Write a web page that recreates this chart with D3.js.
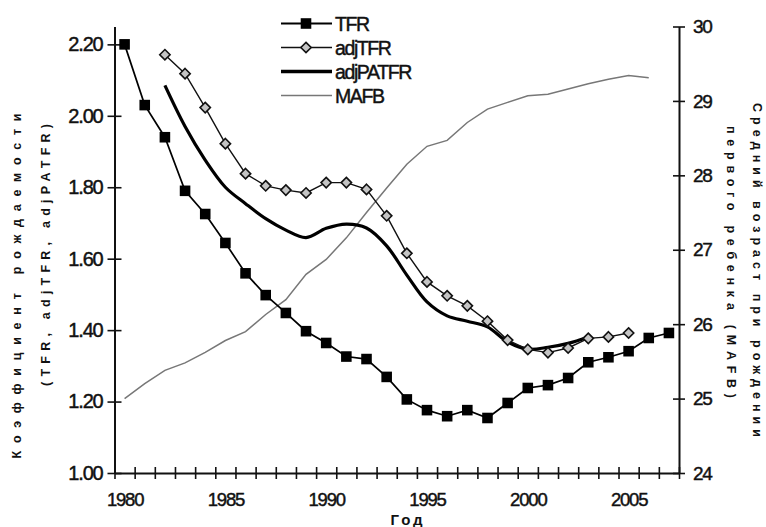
<!DOCTYPE html>
<html><head><meta charset="utf-8">
<script src="https://cdn.jsdelivr.net/npm/d3@7"></script>
<style>body{margin:0;background:#fff} svg{display:block} text{font-family:"Liberation Sans",Arial,sans-serif;fill:#111}
.heavy{stroke:#111;stroke-width:0.45px}</style>
</head><body><svg id="c" width="766" height="527"></svg>
<script>
const years = [1980,1981,1982,1983,1984,1985,1986,1987,1988,1989,1990,1991,1992,1993,1994,1995,1996,1997,1998,1999,2000,2001,2002,2003,2004,2005,2006,2007];
const tfr = [2.20,2.03,1.94,1.79,1.725,1.644,1.559,1.498,1.448,1.397,1.364,1.326,1.319,1.269,1.206,1.176,1.159,1.176,1.154,1.196,1.238,1.246,1.266,1.31,1.324,1.341,1.378,1.392];
const adjTfrYears = [1982,1983,1984,1985,1986,1987,1988,1989,1990,1991,1992,1993,1994,1995,1996,1997,1998,1999,2000,2001,2002,2003,2004,2005];
const adjTfr = [2.171,2.118,2.023,1.922,1.838,1.804,1.792,1.784,1.813,1.813,1.794,1.72,1.615,1.535,1.496,1.468,1.425,1.372,1.346,1.337,1.35,1.377,1.381,1.392];
const adjPatfrYears = [1982,1983,1984,1985,1986,1987,1988,1989,1990,1991,1992,1993,1994,1995,1996,1997,1998,1999,2000,2001,2002,2003];
const adjPatfr = [2.085,1.97,1.876,1.80,1.754,1.712,1.68,1.659,1.685,1.697,1.686,1.636,1.554,1.479,1.44,1.425,1.409,1.367,1.347,1.352,1.363,1.381];
const mafbYears = [1980,1981,1982,1983,1984,1985,1986,1987,1988,1989,1990,1991,1992,1993,1994,1995,1996,1997,1998,1999,2000,2001,2002,2003,2004,2005,2006];
const mafb = [25.0,25.2,25.38,25.48,25.62,25.78,25.9,26.13,26.33,26.67,26.87,27.16,27.5,27.83,28.15,28.39,28.47,28.71,28.89,28.98,29.07,29.09,29.16,29.23,29.29,29.34,29.31];
const leftTicks = [1.00,1.20,1.40,1.60,1.80,2.00,2.20];
const rightTicks = [24,25,26,27,28,29,30];
const xLabelYears = [1980,1985,1990,1995,2000,2005];
const legendItems = ["TFR","adjTFR","adjPATFR","MAFB"];

const svg = d3.select("#c");
const L = 114.5, R = 679, T = 26.5, B = 473;
const x = d3.scaleLinear().domain([1979.5, 2007.5]).range([L, R]);
const yL = d3.scaleLinear().domain([1.0, 2.25]).range([B, T]);
const yR = d3.scaleLinear().domain([24, 30]).range([B, T]);

// x axis
const boundaries = d3.range(years.length + 1).map(i => years[0] - 0.5 + i);
const gx = svg.append("g").attr("transform", `translate(0,${B})`)
  .call(d3.axisBottom(x).tickValues(boundaries).tickSizeInner(6).tickSizeOuter(0).tickFormat(""));
gx.selectAll(".tick line").attr("y1", -6).attr("y2", 6);
const gxl = svg.append("g").attr("transform", `translate(0,${B})`)
  .call(d3.axisBottom(x).tickValues(xLabelYears).tickSize(0).tickFormat(d3.format("d")));
gxl.select(".domain").remove();
gxl.selectAll("text").attr("y", 33).attr("dy", 0).attr("class","heavy").style("font-size", "18.5px").style("letter-spacing", "-1.2px");

// left axis
const gl = svg.append("g").attr("transform", `translate(${L},0)`)
  .call(d3.axisLeft(yL).tickValues(leftTicks).tickSizeInner(7).tickSizeOuter(0).tickFormat(d3.format(".2f")));
gl.selectAll(".tick line").attr("x1", 7).attr("x2", -7);
gl.selectAll("text").attr("x", -12).attr("class","heavy").style("font-size", "20px").style("letter-spacing", "-1.2px");

// right axis
const gr = svg.append("g").attr("transform", `translate(${R},0)`)
  .call(d3.axisRight(yR).tickValues(rightTicks).tickSizeInner(6).tickSizeOuter(0).tickFormat(d3.format("d")));
gr.selectAll(".tick line").attr("x1", -6).attr("x2", 6);
gr.selectAll("text").attr("x", 14).attr("class","heavy").style("font-size", "19px").style("letter-spacing", "-1.3px");

svg.selectAll(".domain").attr("stroke", "#111").attr("stroke-width", 2);
svg.selectAll(".tick line").attr("stroke", "#111").attr("stroke-width", 1.6);

// series
const lineR = d3.line().x(d => x(d[0])).y(d => yR(d[1]));
const lineL = d3.line().x(d => x(d[0])).y(d => yL(d[1]));

svg.append("path").datum(mafbYears.map((y,i)=>[y,mafb[i]]))
  .attr("d", lineR).attr("fill","none").attr("stroke","#777").attr("stroke-width",1.5);

svg.append("path").datum(adjPatfrYears.map((y,i)=>[y,adjPatfr[i]]))
  .attr("d", d3.line().x(d => x(d[0])).y(d => yL(d[1])).curve(d3.curveCatmullRom.alpha(0.5)))
  .attr("fill","none").attr("stroke","#000").attr("stroke-width",3.2);

const adjData = adjTfrYears.map((y,i)=>[y,adjTfr[i]]);
svg.append("path").datum(adjData).attr("d", lineL).attr("fill","none").attr("stroke","#111").attr("stroke-width",1.4);

const tfrData = years.map((y,i)=>[y,tfr[i]]);
svg.append("path").datum(tfrData).attr("d", lineL).attr("fill","none").attr("stroke","#000").attr("stroke-width",1.7);

const diamond = d3.symbol().type(d3.symbolDiamond2).size(68);
const square = d3.symbol().type(d3.symbolSquare).size(112);

svg.append("g").selectAll("path").data(adjData).join("path")
  .attr("d", diamond).attr("transform", d => `translate(${x(d[0])},${yL(d[1])})`)
  .attr("fill","#c4c4c4").attr("stroke","#111").attr("stroke-width",1.6);

svg.append("g").selectAll("path").data(tfrData).join("path")
  .attr("d", square).attr("transform", d => `translate(${x(d[0])},${yL(d[1])})`)
  .attr("fill","#000");

// legend
const lg = svg.append("g");
const rowsY = [23.5, 47.5, 71.5, 95.5];
legendItems.forEach((name, i) => {
  const yy = rowsY[i];
  const ln = lg.append("line").attr("x1", 281).attr("x2", 332).attr("y1", yy).attr("y2", yy);
  if (name === "TFR") {
    ln.attr("stroke","#000").attr("stroke-width",1.8);
    lg.append("path").attr("d", square).attr("transform", `translate(306,${yy})`).attr("fill","#000");
  } else if (name === "adjTFR") {
    ln.attr("stroke","#111").attr("stroke-width",1.4);
    lg.append("path").attr("d", diamond).attr("transform", `translate(306,${yy})`).attr("fill","#c4c4c4").attr("stroke","#111").attr("stroke-width",1.6);
  } else if (name === "adjPATFR") {
    ln.attr("stroke","#000").attr("stroke-width",3.4);
  } else {
    ln.attr("stroke","#777").attr("stroke-width",1.5);
  }
  lg.append("text").attr("x", 335).attr("y", yy).attr("dy", "0.36em").attr("class","heavy")
    .style("font-size","19.5px").style("letter-spacing","-1.4px").text(name);
});

// axis titles
function vtitle(cx, cy, rot, txt, len) {
  svg.append("text").attr("transform", `translate(${cx},${cy}) rotate(${rot})`)
    .attr("text-anchor","middle").attr("dy","0.35em")
    .attr("textLength", len).attr("lengthAdjust","spacing")
    .style("font-size","12.5px").style("font-weight","bold").text(txt);
}
vtitle(17, 286, -90, "Коэффициент рождаемости", 345);
vtitle(46, 255, -90, "(TFR, adjTFR, adjPATFR)", 262);
vtitle(757, 270, 90, "Средний возраст при рождении", 334);
vtitle(731, 262, 90, "первого ребенка (MAFB)", 272);

svg.append("text").attr("x", 408).attr("y", 525).attr("text-anchor","middle")
  .style("font-size","15px").style("font-weight","bold").style("letter-spacing","3px").text("Год");
</script></body></html>
